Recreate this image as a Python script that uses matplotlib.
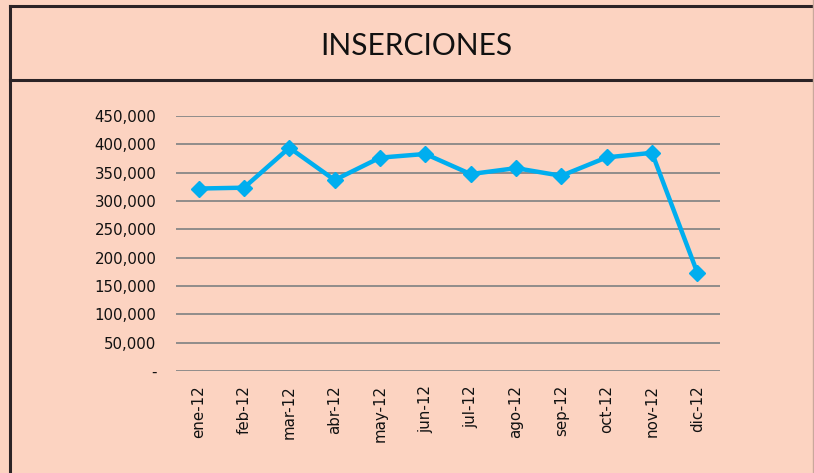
import matplotlib.pyplot as plt
from matplotlib.lines import Line2D

months = ['ene-12', 'feb-12', 'mar-12', 'abr-12', 'may-12', 'jun-12',
          'jul-12', 'ago-12', 'sep-12', 'oct-12', 'nov-12', 'dic-12']
inserciones = [322000, 323500, 394000, 337000, 376500, 383000,
               347500, 358000, 344500, 377000, 385000, 173500]
yticks = [0, 50000, 100000, 150000, 200000, 250000, 300000, 350000, 400000, 450000]
ytick_labels = ['-', '50,000', '100,000', '150,000', '200,000', '250,000',
                '300,000', '350,000', '400,000', '450,000']

bg = '#FCD3C1'
W, H = 814, 473

fig = plt.figure(figsize=(W / 100, H / 100), dpi=100, facecolor=bg)

# frame lines of the sheet
frame = '#2b2326'
fig.add_artist(Line2D([9.5 / W, 9.5 / W], [0, 1 - 6 / H], color=frame, lw=2.2))
fig.add_artist(Line2D([9.5 / W, 1], [1 - 6 / H, 1 - 6 / H], color=frame, lw=2.2))
fig.add_artist(Line2D([9.5 / W, 1], [1 - 80 / H, 1 - 80 / H], color=frame, lw=2.2))
fig.add_artist(Line2D([1 - 1 / W, 1 - 1 / W], [0, 1], color='#c9a89c', lw=1))

fig.text(416 / W, 1 - 46 / H, 'INSERCIONES', ha='center', va='center',
         fontsize=21.5, family='Lato', color='#111111')

# axes area: x 176..720, y 116..371 (0 at 371, 450,000 at 116)
ax = fig.add_axes([176 / W, 1 - 371 / H, (720 - 176) / W, (371 - 116) / H])
ax.set_facecolor(bg)
x = range(len(months))
ax.plot(x, inserciones, color='#00AEEF', lw=3.2, marker='D', markersize=8,
        zorder=3, clip_on=False)

ax.set_xlim(-0.5, len(months) - 0.5)
ax.set_ylim(0, 450000)
ax.set_yticks(yticks)
ax.set_yticklabels(ytick_labels)
ax.set_xticks(list(x))
ax.set_xticklabels(months, rotation=90)
ax.grid(axis='y', color='#878787', lw=1.3)
ax.set_axisbelow(True)
for s in ax.spines.values():
    s.set_visible(False)
ax.tick_params(length=0, labelsize=10.8, colors='#111111')
ax.tick_params(axis='x', pad=10)
ax.tick_params(axis='y', pad=14)

fig.savefig('out.png', dpi=100, facecolor=bg)
